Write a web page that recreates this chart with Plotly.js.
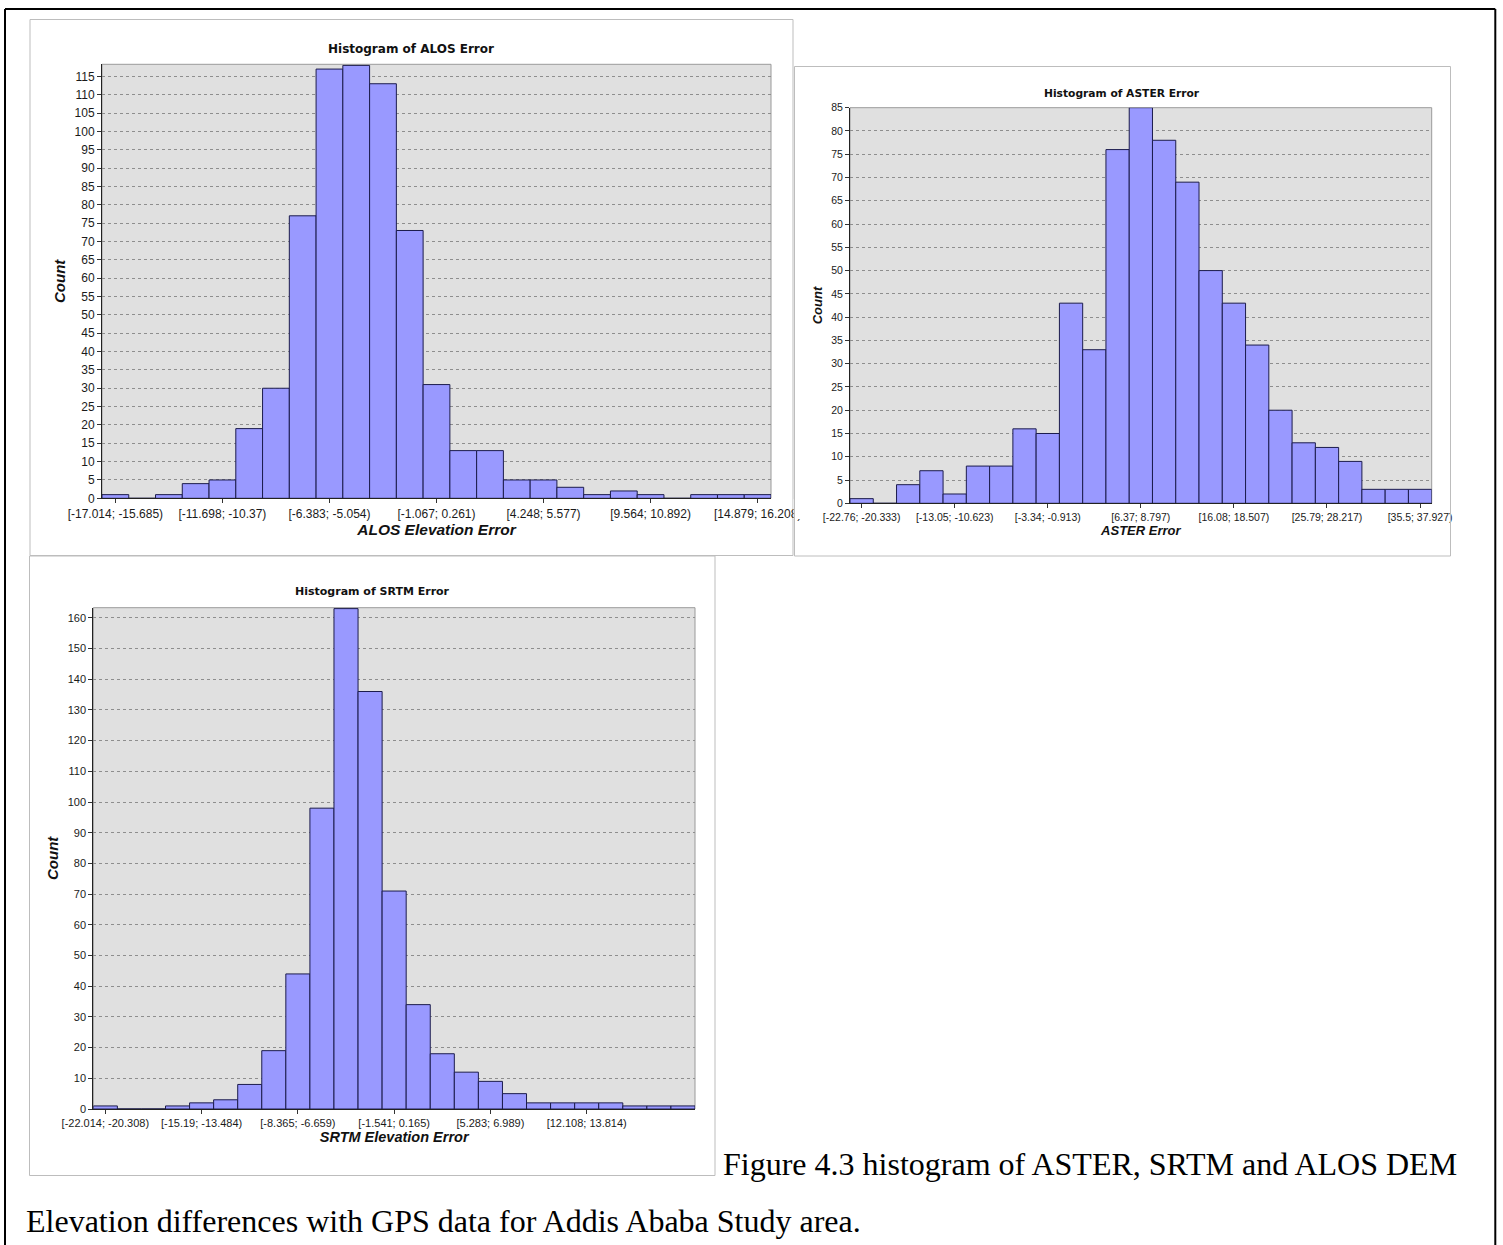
<!DOCTYPE html>
<html>
<head>
<meta charset="utf-8">
<script src="https://cdn.plot.ly/plotly-3.0.1.min.js"></script>
<style>
  html, body { margin: 0; padding: 0; background: #ffffff; }
  #chart { width: 1503px; height: 1245px; }
</style>
</head>
<body>
<div id="chart"></div>
<script>
// ---------------- DATA ----------------
// ALOS elevation error histogram (25 bins)
const alosCounts = [1, 0, 1, 4, 5, 19, 30, 77, 117, 118, 113, 73, 31, 13, 13, 5, 5, 3, 1, 2, 1, 0, 1, 1, 1];
const alosTickBins = [0, 4, 8, 12, 16, 20, 24];
const alosTickLabels = ["[-17.014; -15.685)", "[-11.698; -10.37)", "[-6.383; -5.054)", "[-1.067; 0.261)", "[4.248; 5.577)", "[9.564; 10.892)", "[14.879; 16.208)"];

// ASTER error histogram (25 bins)
const asterCounts = [1, 0, 4, 7, 2, 8, 8, 16, 15, 43, 33, 76, 85, 78, 69, 50, 43, 34, 20, 13, 12, 9, 3, 3, 3];
const asterTickBins = [0, 4, 8, 12, 16, 20, 24];
const asterTickLabels = ["[-22.76; -20.333)", "[-13.05; -10.623)", "[-3.34; -0.913)", "[6.37; 8.797)", "[16.08; 18.507)", "[25.79; 28.217)", "[35.5; 37.927)"];

// SRTM elevation error histogram (25 bins)
const srtmCounts = [1, 0, 0, 1, 2, 3, 8, 19, 44, 98, 163, 136, 71, 34, 18, 12, 9, 5, 2, 2, 2, 2, 1, 1, 1];
const srtmTickBins = [0, 4, 8, 12, 16, 20];
const srtmTickLabels = ["[-22.014; -20.308)", "[-15.19; -13.484)", "[-8.365; -6.659)", "[-1.541; 0.165)", "[5.283; 6.989)", "[12.108; 13.814)"];

const chartTitles = ["Histogram of ALOS Error", "Histogram of ASTER Error", "Histogram of SRTM Error"];
const xTitles = ["ALOS Elevation Error", "ASTER Error", "SRTM Elevation Error"];
const yTitle = "Count";
const captionLine1 = "Figure 4.3 histogram of ASTER, SRTM and ALOS DEM";
const captionLine2 = "Elevation differences with GPS data for Addis Ababa Study area.";

// ---------------- LAYOUT HELPERS ----------------
const W = 1503, H = 1245;
const fx = v => v / W;
const fy = v => 1 - v / H;

const BAR_FILL = '#9999FF';
const BAR_LINE = '#1c1c4c';
const PLOT_BG = '#E0E0E0';
const GRID = '#8e8e8e';
const TICK_FONT = 'Liberation Sans, Arial, sans-serif';

function barTrace(counts, xa, ya) {
  return {
    type: 'bar',
    x: counts.map((_, i) => i),
    y: counts,
    width: 1,
    xaxis: xa, yaxis: ya,
    marker: { color: BAR_FILL, line: { color: BAR_LINE, width: 1 } },
    hoverinfo: 'skip'
  };
}

function xAxis(domain, anchor, tickBins, tickLabels, fontSize, title, titleSize, standoff) {
  return {
    domain: domain, anchor: anchor,
    range: [-0.5, 24.5],
    tickmode: 'array', tickvals: tickBins, ticktext: tickLabels,
    ticks: 'outside', ticklen: 4, tickcolor: '#333', tickwidth: 1,
    showgrid: false, zeroline: false,
    showline: true, linecolor: '#222', linewidth: 1,
    tickfont: { family: TICK_FONT, size: fontSize, color: '#1a1a1a' },
    title: { text: title, standoff: standoff,
             font: { family: TICK_FONT, size: titleSize, color: '#111', style: 'italic', weight: 'bold' } },
    fixedrange: true
  };
}

function yAxis(domain, anchor, range, dtick, fontSize, titleSize, standoff) {
  return {
    domain: domain, anchor: anchor,
    range: range, tick0: 0, dtick: dtick,
    ticks: 'outside', ticklen: 4, tickcolor: '#333', tickwidth: 1,
    showgrid: true, gridcolor: GRID, gridwidth: 1, griddash: 'dot',
    zeroline: false,
    showline: true, linecolor: '#222', linewidth: 1,
    tickfont: { family: TICK_FONT, size: fontSize, color: '#1a1a1a' },
    title: { text: yTitle, standoff: standoff,
             font: { family: TICK_FONT, size: titleSize, color: '#111', style: 'italic', weight: 'bold' } },
    fixedrange: true
  };
}

const data = [
  barTrace(alosCounts, 'x', 'y'),
  barTrace(asterCounts, 'x2', 'y2'),
  barTrace(srtmCounts, 'x3', 'y3')
];

function plotBorder(xr, yr) {
  return { type: 'rect', xref: xr + ' domain', yref: yr + ' domain', x0: 0, x1: 1, y0: 0, y1: 1,
           line: { color: '#9a9a9a', width: 1 }, layer: 'below' };
}
function paperRect(x0, y0, x1, y1, color, width, fill, layer) {
  return { type: 'rect', xref: 'paper', yref: 'paper',
           x0: fx(x0), x1: fx(x1), y0: fy(y1), y1: fy(y0),
           line: { color: color, width: width }, fillcolor: fill || 'rgba(0,0,0,0)', layer: layer || 'below' };
}
function paperLine(x0, y0, x1, y1, color, width) {
  return { type: 'line', xref: 'paper', yref: 'paper',
           x0: fx(x0), x1: fx(x1), y0: fy(y0), y1: fy(y1),
           line: { color: color, width: width }, layer: 'above' };
}

const layout = {
  width: W, height: H,
  margin: { l: 0, r: 0, t: 0, b: 0, pad: 0 },
  paper_bgcolor: '#ffffff',
  plot_bgcolor: PLOT_BG,
  showlegend: false,
  bargap: 0,
  xaxis:  xAxis([fx(102), fx(771)], 'y', alosTickBins, alosTickLabels, 12, xTitles[0], 15.5, 2),
  yaxis:  yAxis([fy(498.3), fy(64.3)], 'x', [0, 118.3], 5, 12, 15, 5),
  xaxis2: xAxis([fx(850), fx(1431.7)], 'y2', asterTickBins, asterTickLabels, 10.5, xTitles[1], 13, 2),
  yaxis2: yAxis([fy(503.3), fy(107.7)], 'x2', [0, 85], 5, 10.5, 13, 5),
  xaxis3: xAxis([fx(93.3), fx(695)], 'y3', srtmTickBins, srtmTickLabels, 11, xTitles[2], 14.5, 3),
  yaxis3: yAxis([fy(1109), fy(607.7)], 'x3', [0, 163.3], 10, 11, 15, 5),
  shapes: [
    plotBorder('x', 'y'), plotBorder('x2', 'y2'), plotBorder('x3', 'y3'),
    // chart image frames
    paperRect(30, 19.5, 793, 555.5, '#bdbdbd', 1),
    paperRect(29.5, 556, 715, 1175.5, '#bdbdbd', 1),
    // clip of the ALOS last tick label at its frame edge
    paperRect(793.6, 499, 814, 519, 'rgba(0,0,0,0)', 0, '#ffffff', 'above'),
    paperRect(794.5, 66.5, 1450.5, 556, '#bdbdbd', 1, 'rgba(0,0,0,0)', 'above'),
    // page border
    paperLine(5, 9, 1495.3, 9, '#000', 2),
    paperLine(5, 9, 5, 1245, '#000', 2),
    paperLine(1495.3, 9, 1495.3, 1245, '#000', 2)
  ],
  annotations: [
    { text: chartTitles[0], xref: 'paper', yref: 'paper', x: fx(411), y: fy(49), xanchor: 'center', yanchor: 'middle',
      showarrow: false, font: { family: 'DejaVu Sans, Verdana, sans-serif', size: 12, color: '#111', weight: 'bold' } },
    { text: chartTitles[1], xref: 'paper', yref: 'paper', x: fx(1122), y: fy(94), xanchor: 'center', yanchor: 'middle',
      showarrow: false, font: { family: 'DejaVu Sans, Verdana, sans-serif', size: 10.7, color: '#111', weight: 'bold' } },
    { text: chartTitles[2], xref: 'paper', yref: 'paper', x: fx(372), y: fy(591), xanchor: 'center', yanchor: 'middle',
      showarrow: false, font: { family: 'DejaVu Sans, Verdana, sans-serif', size: 11, color: '#111', weight: 'bold' } },
    { text: captionLine1, xref: 'paper', yref: 'paper', x: fx(721), y: fy(1164), xanchor: 'left', yanchor: 'middle',
      showarrow: false, font: { family: 'Liberation Serif, Times New Roman, serif', size: 32, color: '#000' } },
    { text: captionLine2, xref: 'paper', yref: 'paper', x: fx(24), y: fy(1221), xanchor: 'left', yanchor: 'middle',
      showarrow: false, font: { family: 'Liberation Serif, Times New Roman, serif', size: 32, color: '#000' } }
  ]
};

Plotly.newPlot('chart', data, layout, { displayModeBar: false, staticPlot: true });
</script>
</body>
</html>
